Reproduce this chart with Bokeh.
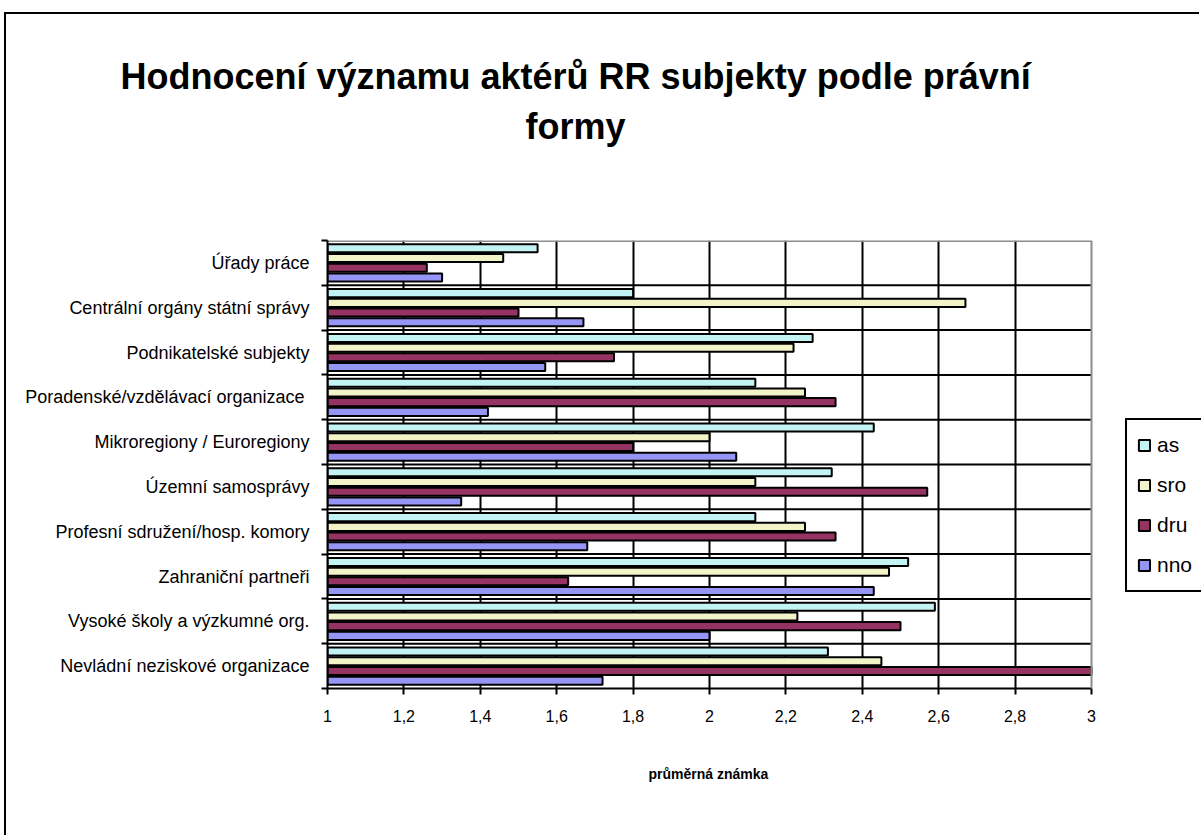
from bokeh.plotting import figure
from bokeh.models import (ColumnDataSource, Range1d, FixedTicker, Title, Legend, LegendItem, Span)
from bokeh.transform import dodge
from bokeh.embed import file_html
from bokeh.resources import INLINE

# ---- data (categories listed top to bottom as in the chart) ----
categories = [
    "Úřady práce",
    "Centrální orgány státní správy",
    "Podnikatelské subjekty",
    "Poradenské/vzdělávací  organizace",
    "Mikroregiony / Euroregiony",
    "Územní samosprávy",
    "Profesní sdružení/hosp. komory",
    "Zahraniční partneři",
    "Vysoké školy a výzkumné org.",
    "Nevládní neziskové organizace",
]
as_vals  = [1.55, 1.80, 2.27, 2.12, 2.43, 2.32, 2.12, 2.52, 2.59, 2.31]
sro_vals = [1.46, 2.67, 2.22, 2.25, 2.00, 2.12, 2.25, 2.47, 2.23, 2.45]
dru_vals = [1.26, 1.50, 1.75, 2.33, 1.80, 2.57, 2.33, 1.63, 2.50, 3.00]
nno_vals = [1.30, 1.67, 1.57, 1.42, 2.07, 1.35, 1.68, 2.43, 2.00, 1.72]
series_names = ["as", "sro", "dru", "nno"]
x_ticks = [1.0, 1.2, 1.4, 1.6, 1.8, 2.0, 2.2, 2.4, 2.6, 2.8, 3.0]
x_tick_labels = ["1", "1,2", "1,4", "1,6", "1,8", "2", "2,2", "2,4", "2,6", "2,8", "3"]
title_lines = ["Hodnocení významu aktérů RR subjekty podle právní", "formy"]
x_title = "průměrná známka"

# ---- styling / layout ----
colors = ["#C4F3F3", "#F3F3C8", "#953362", "#9595F6"]
FONT = "Liberation Sans"
x_lo, x_hi = x_ticks[0], x_ticks[-1]
# the frame runs on to the right edge so the legend (drawn in it) is not clipped
x_view_max = x_hi + (1201 - 1091) / 382.0

n = len(categories)
ypos = [n - 1 - i for i in range(n)]  # top category drawn highest
boundaries = [i + 0.5 for i in range(n - 1)]
source = ColumnDataSource(data=dict(y=ypos, cat=categories, as_=as_vals,
                                    sro=sro_vals, dru=dru_vals, nno=nno_vals))

p = figure(width=1195, height=823, title=None,
           x_range=Range1d(x_lo, x_view_max),
           y_range=Range1d(-0.5, n - 0.5),
           output_backend="svg", toolbar_location=None,
           min_border_left=321, min_border_right=0,
           min_border_top=226, min_border_bottom=149)
p.styles = {"margin-left": "4px", "margin-top": "12px",
            "border-left": "2px solid black", "border-top": "2px solid black"}
p.background_fill_color = "white"
p.border_fill_color = "white"
p.outline_line_color = None

# category boundary lines (back wall) and wall edges
p.segment(x0=x_lo, x1=x_hi, y0=boundaries, y1=boundaries, line_color="black", line_width=2)
p.segment(x0=x_lo, x1=x_hi, y0=n - 0.5, y1=n - 0.5, line_color="#8c8c8c", line_width=3)
p.add_layout(Span(location=x_hi, dimension="height", line_color="#8c8c8c", line_width=2))

offsets = [0.325, 0.108, -0.108, -0.325]
fields = ["as_", "sro", "dru", "nno"]
renderers = []
for f, off, c in zip(fields, offsets, colors):
    r = p.hbar(y=dodge("y", off), left=x_lo, right=f, height=0.18,
               source=source, fill_color=c, line_color="black", line_width=2)
    renderers.append(r)

# grid
p.xgrid.ticker = FixedTicker(ticks=x_ticks[1:-1])
p.xgrid.grid_line_color = "black"
p.xgrid.grid_line_width = 2
p.ygrid.grid_line_color = None

# x axis
xa = p.xaxis[0]
xa.bounds = (x_lo, x_hi)
xa.ticker = FixedTicker(ticks=x_ticks)
xa.major_label_overrides = {t: l for t, l in zip(x_ticks, x_tick_labels)}
xa.axis_line_color = "black"
xa.axis_line_width = 2
xa.major_tick_line_color = "black"
xa.major_tick_line_width = 2
xa.major_tick_out = 6
xa.major_tick_in = 0
xa.minor_tick_line_color = None
xa.major_label_text_font = FONT
xa.major_label_text_font_size = "16px"
xa.major_label_text_color = "black"
xa.major_label_standoff = 15

# x axis title as a bottom title (placed under the 1..3 span)
p.add_layout(Title(text=x_title, align="left", offset=321, standoff=78,
                   text_font=FONT, text_font_style="bold",
                   text_font_size="14px", text_color="black"), "below")

# y axis
ya = p.yaxis[0]
ya.ticker = FixedTicker(ticks=ypos, minor_ticks=[i - 0.5 for i in range(n + 1)])
ya.major_label_overrides = {y: c for y, c in zip(ypos, categories)}
ya.axis_line_color = "black"
ya.axis_line_width = 2
ya.major_tick_line_color = None
ya.major_tick_out = 0
ya.major_tick_in = 0
ya.minor_tick_line_color = "black"
ya.minor_tick_line_width = 2
ya.minor_tick_out = 6
ya.minor_tick_in = 0
ya.major_label_text_font = FONT
ya.major_label_text_font_size = "18px"
ya.major_label_text_color = "black"
ya.major_label_standoff = 12

# title (two lines; first added sits nearest the plot, a white spacer first)
p.add_layout(Title(text=".", standoff=80, text_font_size="10px", text_color="white"), "above")
p.add_layout(Title(text=title_lines[1], align="left", offset=198,
                   standoff=7, text_font=FONT, text_font_style="bold",
                   text_font_size="36px", text_color="black"), "above")
p.add_layout(Title(text=title_lines[0], align="left", offset=-207,
                   standoff=7, text_font=FONT, text_font_style="bold",
                   text_font_size="36px", text_color="black"), "above")

# legend
legend = Legend(items=[LegendItem(label=nm, renderers=[r]) for nm, r in zip(series_names, renderers)],
                location=(798, 96), orientation="vertical",
                glyph_width=14, glyph_height=14, label_text_font=FONT,
                label_text_font_size="21px", label_text_color="black",
                label_standoff=6, label_height=30, label_width=50,
                spacing=10, padding=10, margin=0,
                border_line_color="black", border_line_width=2, border_line_alpha=1,
                background_fill_color="white", background_fill_alpha=1)
p.add_layout(legend, "center")

open("out.html", "w").write(file_html(p, INLINE))
